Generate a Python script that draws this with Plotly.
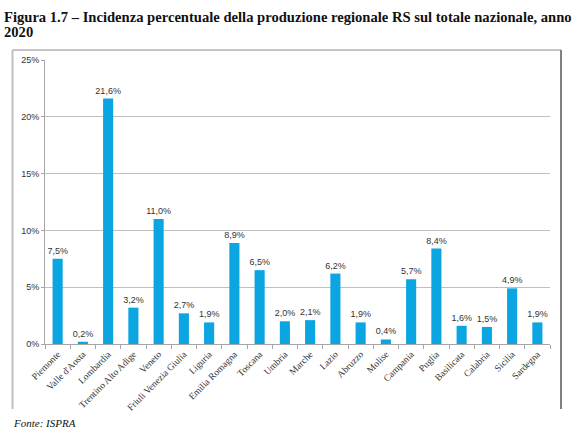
import plotly.graph_objects as go

regioni = ["Piemonte", "Valle d'Aosta", "Lombardia", "Trentino Alto Adige", "Veneto",
           "Friuli Venezia Giulia", "Liguria", "Emilia Romagna", "Toscana", "Umbria",
           "Marche", "Lazio", "Abruzzo", "Molise", "Campania", "Puglia", "Basilicata",
           "Calabria", "Sicilia", "Sardegna"]
valori = [7.5, 0.2, 21.6, 3.2, 11.0, 2.7, 1.9, 8.9, 6.5, 2.0,
          2.1, 6.2, 1.9, 0.4, 5.7, 8.4, 1.6, 1.5, 4.9, 1.9]
y_ticks = [0, 5, 10, 15, 20, 25]
y_labels = ["0%", "5%", "10%", "15%", "20%", "25%"]

etichette = [f"{v:.1f}".replace(".", ",") + "%" for v in valori]

W, H = 579, 437
L, R, T, B = 45, 29, 60, 93
pw, ph = W - L - R, H - T - B

def px_x(x):
    return (x - L) / pw

def px_y(y):
    return (H - B - y) / ph

fig = go.Figure(go.Bar(
    x=regioni, y=valori, text=etichette, textposition="outside",
    constraintext="none",
    textfont=dict(family="Liberation Sans, Arial", size=9, color="#333333"),
    marker=dict(color="#0BA5E2", line=dict(width=0)),
    cliponaxis=False,
))

fig.update_layout(
    width=W, height=H, margin=dict(l=L, r=R, t=T, b=B),
    paper_bgcolor="white", plot_bgcolor="white",
    bargap=0.6, showlegend=False,
    xaxis=dict(
        type="category", tickangle=-45,
        tickfont=dict(family="Liberation Serif, Times New Roman", size=9.5, color="#333333"),
        showline=True, linecolor="#A6A6A6", linewidth=1,
        ticks="outside", tickson="boundaries", ticklen=4, tickcolor="#A6A6A6",
        showgrid=False,
    ),
    yaxis=dict(
        range=[0, 25], tickvals=y_ticks, ticktext=y_labels,
        tickfont=dict(family="Liberation Sans, Arial", size=9, color="#333333"),
        showline=True, linecolor="#A6A6A6", linewidth=1,
        ticks="outside", ticklen=3, tickcolor="#A6A6A6",
        showgrid=True, gridcolor="#BFBFBF", gridwidth=1, zeroline=False,
    ),
)

title_font = dict(family="Liberation Serif, Times New Roman", size=14.6, color="#111111")
fig.add_annotation(
    xref="paper", yref="paper", x=px_x(2), y=px_y(17), xanchor="left", yanchor="middle",
    showarrow=False,
    text="<b>Figura 1.7 – Incidenza percentuale della produzione regionale RS sul totale nazionale, anno</b>",
    font=title_font,
)
fig.add_annotation(
    xref="paper", yref="paper", x=px_x(2), y=px_y(32), xanchor="left", yanchor="middle",
    showarrow=False, text="<b>2020</b>", font=title_font,
)
fig.add_annotation(
    xref="paper", yref="paper", x=px_x(11), y=px_y(415), xanchor="left", yanchor="top",
    showarrow=False, text="<i>Fonte: ISPRA</i>",
    font=dict(family="Liberation Serif, Times New Roman", size=11, color="#111111"),
)

# chart frame
fig.add_shape(type="line", xref="paper", yref="paper",
              x0=px_x(12.5), x1=px_x(561), y0=px_y(50), y1=px_y(50),
              line=dict(color="#B0B0B0", width=1.5))
fig.add_shape(type="line", xref="paper", yref="paper",
              x0=px_x(12.5), x1=px_x(12.5), y0=px_y(50), y1=px_y(409),
              line=dict(color="#C0C0C0", width=2))
fig.add_shape(type="line", xref="paper", yref="paper",
              x0=px_x(561), x1=px_x(561), y0=px_y(50), y1=px_y(409),
              line=dict(color="#808080", width=2))

fig.write_html("out.html")
